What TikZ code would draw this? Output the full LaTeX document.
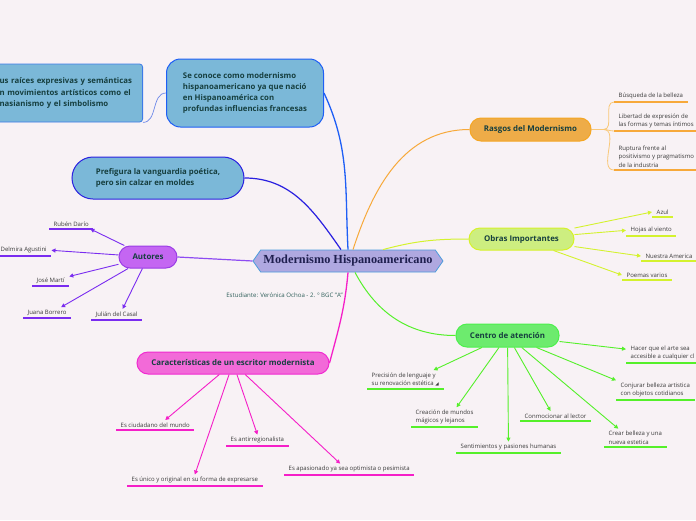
\documentclass[tikz,border=0pt]{standalone}
\usepackage{fontspec}
\setmainfont{Open Sans}
\newfontfamily\centralfont{Liberation Serif}
\newfontfamily\symfont{DejaVu Sans}
\usetikzlibrary{shapes.symbols,arrows.meta}
\definecolor{bg}{HTML}{F8F2F5}
\definecolor{nodetext}{HTML}{163F3F}
\definecolor{leaftext}{HTML}{3A3A3A}
\definecolor{studtext}{HTML}{2F5F5A}
\definecolor{boxfill}{HTML}{7BB8D8}
\definecolor{raicesborder}{HTML}{3D7BE8}
\definecolor{raicesline}{HTML}{6D88E8}
\definecolor{box2border}{HTML}{1F5FF5}
\definecolor{box3border}{HTML}{2A20E0}
\definecolor{centralfill}{HTML}{AFA8E0}
\definecolor{centralborder}{HTML}{4C9CDC}
\definecolor{centraltext}{HTML}{1F1F4F}
\definecolor{pfill}{HTML}{C466F2}
\definecolor{pborder}{HTML}{9B3DE6}
\definecolor{pline}{HTML}{7A2CF0}
\definecolor{ofill}{HTML}{EEAC48}
\definecolor{oborder}{HTML}{F5A623}
\definecolor{oline}{HTML}{F7A93A}
\definecolor{olight}{HTML}{F9C878}
\definecolor{yfill}{HTML}{CDEE80}
\definecolor{yborder}{HTML}{D6F22A}
\definecolor{yline}{HTML}{D4F22E}
\definecolor{gfill}{HTML}{6DEB6E}
\definecolor{gborder}{HTML}{4CF04C}
\definecolor{gline}{HTML}{55F02A}
\definecolor{mfill}{HTML}{F26AD8}
\definecolor{mborder}{HTML}{F02BD0}
\definecolor{mline}{HTML}{F51FC8}
\tikzset{
  pill/.style={draw, line width=1pt, rounded corners=11pt, inner sep=0pt,
    font=\bfseries\fontsize{7.9}{9}\selectfont, text=nodetext},
  textbox/.style={draw, line width=1pt, inner sep=0pt, align=left,
    font=\bfseries\fontsize{7.8}{11.2}\selectfont, text=nodetext},
  leaf/.style={font=\fontsize{6}{8.3}\selectfont, text=leaftext, align=left,
    inner xsep=4.5pt, inner ysep=2.5pt, anchor=south west,
    append after command={(\tikzlastnode.south west) edge[draw=#1, line width=1.2pt] (\tikzlastnode.south east)}},
  arr/.style={-{Triangle[length=4pt,width=4pt]}, line width=0.9pt},
  centralnode/.style={signal, signal to=west and east, signal pointer angle=110,
    draw=centralborder, fill=centralfill, line width=0.8pt, minimum width=190pt,
    minimum height=22pt, inner sep=0pt, text=centraltext,
    font=\centralfont\bfseries\fontsize{12.3}{14}\selectfont}
}
\begin{document}
\begin{tikzpicture}[x=1pt,y=-1pt]
\useasboundingbox (0,0) rectangle (696,520);
\fill[bg] (0,0) rectangle (696,520);

% central
\node[centralnode] (central) at (348,261) {Modernismo Hispanoamericano};
\node[font=\fontsize{6.1}{7}\selectfont, text=studtext] (estud) at (284.5,295) {Estudiante: Verónica Ochoa - 2. º BGC "A"};

% blue boxes
\node[textbox, fill=boxfill, draw=raicesborder, line width=0.8pt, rounded corners=3pt, text width=138pt,
  minimum height=58pt, inner xsep=5pt, anchor=east] (raices) at (143,93)
  {us raíces expresivas y semánticas\\n movimientos artísticos como el\\nasianismo y el simbolismo};
\node[textbox, fill=boxfill, draw=box2border, rounded corners=14pt, minimum width=157pt,
  minimum height=68pt] (conoce) at (245,93)
  {Se conoce como modernismo\\hispanoamericano ya que nació\\en Hispanoamérica con\\profundas influencias francesas};
\node[textbox, fill=boxfill, draw=box3border, rounded corners=21pt, minimum width=172pt,
  minimum height=42pt, font=\bfseries\fontsize{7.8}{10.5}\selectfont] (box3) at (158,178)
  {Prefigura la vanguardia poética,\\pero sin calzar en moldes};

% main topics
\node[pill, fill=pfill, draw=pborder, minimum width=58pt, minimum height=22pt] (autores) at (148,257) {Autores};
\node[pill, fill=ofill, draw=oborder, minimum width=121pt, minimum height=23pt] (rasgos) at (530.5,129.5) {Rasgos del Modernismo};
\node[pill, fill=yfill, draw=yborder, minimum width=105pt, minimum height=22pt] (obras) at (521.5,239) {Obras Importantes};
\node[pill, fill=gfill, draw=gborder, minimum width=103pt, minimum height=23pt] (centro) at (507.5,335.5) {Centro de atención};
\node[pill, fill=mfill, draw=mborder, minimum width=192pt, minimum height=22pt] (caract) at (233,363) {Características de un escritor modernista};

% main connectors
\draw[draw=raicesline, line width=0.7pt] (raices.south east) to[out=0,in=180] (conoce.west);
\draw[draw=box2border, line width=1.3pt] (conoce.east) to[out=-65,in=93] (central.north);
\draw[draw=box3border, line width=1.2pt] (box3.east) to[out=0,in=125] ([xshift=-7pt]central.north);
\draw[draw=pline!85!white, line width=1.2pt] (autores.east) -- (central.west);
\draw[draw=oline, line width=1pt] ([xshift=5pt]central.north) to[out=72,in=180] (rasgos.west);
\draw[draw=yline, line width=1pt] ([xshift=35pt]central.north) to[out=15,in=180] (obras.west);
\draw[draw=gline, line width=1pt] ([xshift=7pt]central.south) to[out=-62,in=180] (centro.west);
\draw[draw=mline, line width=1.3pt] (central.south) to[out=-95,in=75] (caract.east);

% Rasgos leaves
\node[leaf=oline] (busq) at (614,102) {Búsqueda de la belleza};
\node[leaf=oline] (libertad) at (614,131) {Libertad de expresión de\\las formas y temas íntimos};
\node[leaf=oline] (ruptura) at (614,170) {Ruptura frente al\\positivismo y pragmatismo\\de la industria};
\coordinate (rhub) at ([xshift=12pt]rasgos.east);
\draw[draw=olight, line width=0.8pt] (rasgos.east) -- (rhub);
\draw[draw=olight, line width=0.8pt] (rhub) to[out=0,in=180] (busq.south west);
\draw[draw=olight, line width=0.8pt] (rhub) to[out=0,in=180] (libertad.south west);
\draw[draw=olight, line width=0.8pt] (rhub) to[out=0,in=180] (ruptura.south west);

% Obras leaves
\node[leaf=yline] (azul) at (652,217) {Azul};
\node[leaf=yline] (hojas) at (626,236) {Hojas al viento};
\node[leaf=yline] (nuestra) at (641,261) {Nuestra America};
\node[leaf=yline] (poemas) at (622,280) {Poemas varios};
\draw[arr, draw=yline] (obras) -- (azul.west);
\draw[arr, draw=yline] (obras) -- (hojas.west);
\draw[arr, draw=yline] (obras) -- (nuestra.west);
\draw[arr, draw=yline] (obras) -- (poemas.west);

% Centro leaves
\node[leaf=gline] (precision) at (367,389) {Precisión de lenguaje y\\su renovación estética {\symfont\fontsize{4.5}{5}\selectfont ◢}};
\node[leaf=gline] (creacion) at (411,427) {Creación de mundos\\mágicos y lejanos};
\node[leaf=gline] (sentim) at (456,453) {Sentimientos y pasiones humanas};
\node[leaf=gline] (conmoc) at (520,421) {Conmocionar al lector};
\node[leaf=gline] (crear) at (604,447) {Crear belleza y una\\nueva estetica};
\node[leaf=gline] (conjurar) at (616,400) {Conjurar belleza artistica\\con objetos cotidianos};
\node[leaf=gline] (hacer) at (626,363) {Hacer que el arte sea\\accesible a cualquier cl};
\draw[arr, draw=gline] (centro) -- ([xshift=-10pt]precision.north east);
\draw[arr, draw=gline] (centro) -- ([xshift=12pt]creacion.north);
\draw[arr, draw=gline] (centro) -- (sentim.north);
\draw[arr, draw=gline] (centro) -- ([xshift=-5pt]conmoc.north);
\draw[arr, draw=gline] (centro) -- ([xshift=-17pt]crear.north);
\draw[arr, draw=gline] (centro) -- (conjurar.north west);
\draw[arr, draw=gline] (centro) -- ([yshift=4pt]hacer.west);

% Caracteristicas leaves
\node[leaf=mline] (ciud) at (116,430) {Es ciudadano del mundo};
\node[leaf=mline] (antirr) at (226,446) {Es antirregionalista};
\node[leaf=mline] (unico) at (127,486) {Es único y original en su forma de expresarse};
\node[leaf=mline] (apas) at (284,475) {Es apasionado ya sea optimista o pesimista};
\draw[arr, draw=mline] (caract) -- ([xshift=10pt]ciud.north);
\draw[arr, draw=mline] (caract) -- (antirr.north);
\draw[arr, draw=mline] (caract) -- (unico.north);
\draw[arr, draw=mline] (caract) -- ([xshift=-9pt]apas.north);

% Autores leaves
\node[leaf=pline] (ruben) at (49,229) {Rubén Darío};
\node[leaf=pline] (delmira) at (-4,256) {Delmira Agustini};
\node[leaf=pline] (jose) at (32,286) {José Martí};
\node[leaf=pline] (juana) at (23,318) {Juana Borrero};
\node[leaf=pline] (julian) at (91,320) {Julián del Casal};
\draw[arr, draw=pline] (autores) -- ([xshift=-3pt]ruben.south east);
\draw[arr, draw=pline] (autores) -- (delmira.east);
\draw[arr, draw=pline] (autores) -- ([yshift=4pt]jose.east);
\draw[arr, draw=pline] (autores) -- ([xshift=14pt]juana.north);
\draw[arr, draw=pline] (autores) -- ([xshift=6pt]julian.north);
\end{tikzpicture}
\end{document}
